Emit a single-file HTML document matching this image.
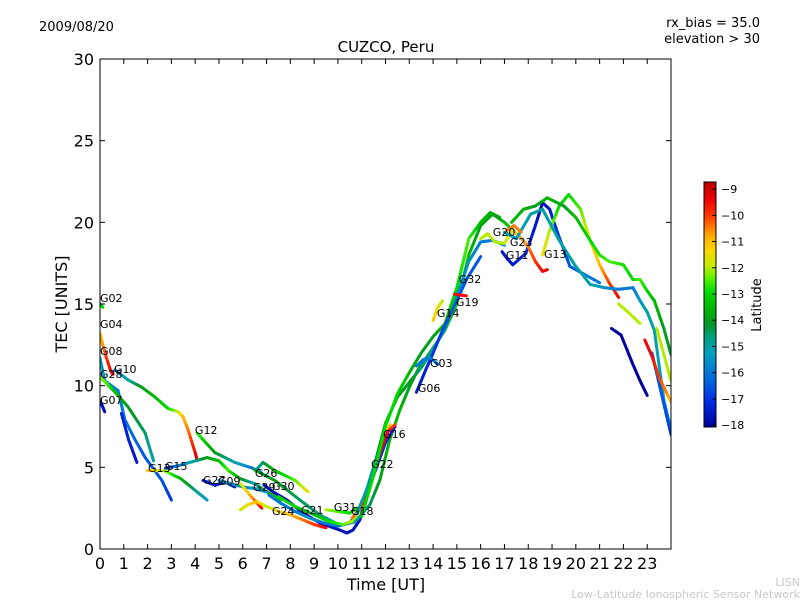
<!DOCTYPE html>
<html><head><meta charset="utf-8"><style>
body{margin:0;background:#fff;}
svg{display:block;font-family:"DejaVu Sans","Liberation Sans",sans-serif;}
</style></head><body>
<svg id="chart" width="800" height="600" xmlns="http://www.w3.org/2000/svg">
<defs>
<clipPath id="plotclip"><rect x="100" y="59" width="571" height="490"/></clipPath>
<linearGradient id="cmapgrad" x1="0" y1="1" x2="0" y2="0"></linearGradient>
</defs>
<text x="39" y="31" font-size="13">2009/08/20</text>
<text x="760" y="27" font-size="13" text-anchor="end">rx_bias = 35.0</text>
<text x="760" y="43" font-size="13" text-anchor="end">elevation &gt; 30</text>
<text x="386" y="52" font-size="15" text-anchor="middle">CUZCO, Peru</text>
<text x="386" y="590" font-size="16" text-anchor="middle">Time [UT]</text>
<text x="0" y="0" font-size="16" text-anchor="middle" transform="translate(67,304) rotate(-90)">TEC [UNITS]</text>
<text x="800" y="586" font-size="11" fill="#c8c8c8" text-anchor="end">LISN</text>
<text x="800" y="598" font-size="11" fill="#c8c8c8" text-anchor="end">Low-Latitude Ionospheric Sensor Network</text>
<g id="tracks" clip-path="url(#plotclip)"></g>
<g id="labels"></g>
<rect x="100" y="59" width="571" height="490" fill="none" stroke="#000" stroke-width="1"/>
<g id="axes"></g>
<rect x="704" y="182" width="12" height="245" fill="url(#cmapgrad)" stroke="#000" stroke-width="1"/>
<g id="cbticks"></g>
<text x="0" y="0" font-size="13" text-anchor="middle" transform="translate(761,305) rotate(-90)">Latitude</text>
</svg>
<script>
const xTicks = [0,1,2,3,4,5,6,7,8,9,10,11,12,13,14,15,16,17,18,19,20,21,22,23];
const yTicks = [0,5,10,15,20,25,30];
const cbTicks = [-9,-10,-11,-12,-13,-14,-15,-16,-17,-18];
const latMin = -18.07, latMax = -8.73;

const trackNames = ['g02','g04','g08','g07','g28','g10b','g10','g13a','g15','g27','g09','g12','g26','g29','v1','gy1','g24','g30','g21','g31','g22','r1','r2','g06','g03','g11','g20','g13b','rg','rt','rb','rlb','rr','ry1','ry2','g19','g14','g23'];
const g02_t=[0,0.12], g02_tec=[15.0,14.8], g02_lat=[-13,-13];
const g04_t=[0,0.1,0.25,0.45,0.55], g04_tec=[13.2,12.6,11.8,10.9,10.7], g04_lat=[-11,-10.8,-10,-9.5,-9.3];
const g08_t=[0,0.2,0.76,1.05,1.47,1.9,2.6,3.0], g08_tec=[11.7,10.3,9.7,7.9,6.7,5.6,4.2,3.0], g08_lat=[-15,-15.5,-16,-16,-16.3,-16.5,-16.5,-17];
const g07_t=[0,0.2], g07_tec=[9.1,8.4], g07_lat=[-17.5,-17.7];
const g28_t=[0,0.3,0.7,1.18,1.9,2.25], g28_tec=[10.5,10.1,9.5,8.7,7.1,5.4], g28_lat=[-12,-12.5,-13.5,-14,-14.5,-15];
const g10b_t=[0.9,1.2,1.55], g10b_tec=[8.3,6.7,5.3], g10b_lat=[-17.3,-17.3,-17.5];
const g10_t=[0.63,1.18,1.76,2.31,2.86,3.28,3.49,3.7,4.0,4.08], g10_tec=[10.96,10.35,9.9,9.3,8.6,8.4,8.1,7.3,5.9,5.45], g10_lat=[-16,-15,-14,-13.5,-13,-12,-11,-10.5,-9.5,-9];
const g13a_t=[2.0,2.7,3.4,4.5], g13a_tec=[4.8,4.8,4.3,3.0], g13a_lat=[-11,-12,-13.5,-15.5];
const g15_t=[2.75,3.3,4.5,5.0,5.4,5.9,6.5,7.0,7.6], g15_tec=[4.95,5.1,5.6,5.4,4.8,4.3,4.0,3.5,3.0], g15_lat=[-17,-16,-14,-13.5,-12.5,-14,-15,-14,-13];
const g27_t=[4.33,4.83,5.25,5.67], g27_tec=[4.2,3.9,4.1,3.8], g27_lat=[-17.5,-17.5,-17.5,-17.5];
const g09_t=[5.0,5.5,6.0,6.5,7.0], g09_tec=[4.2,4.0,3.8,3.7,3.5], g09_lat=[-15.5,-15.5,-15.5,-15.5,-15.5];
const g12_t=[4.08,4.83,5.67,6.39,6.8], g12_tec=[7.1,5.9,5.3,4.96,4.65], g12_lat=[-12.5,-14,-15,-16,-16.5];
const g26_t=[6.6,6.85,7.35,8.2,8.74], g26_tec=[4.9,5.3,4.8,4.2,3.5], g26_lat=[-15,-14.5,-13.5,-12.5,-11.5];
const g29_t=[6.9,7.27,7.86,8.53,9.24,10.08,10.38,10.63,10.92,11.13], g29_tec=[3.9,3.5,3.0,2.2,1.6,1.16,0.98,1.16,1.78,2.9], g29_lat=[-17.6,-17.6,-17.6,-17.6,-17.6,-17.6,-17.6,-17.6,-17.6,-17.6];
const v1_t=[6.5,7.35,8.4,9.24,10.08,10.71,11.34,11.76,12.18,12.6,13.03,13.36,14.0,14.5,15.0,15.5,16.0,16.5,17.0,17.5], v1_tec=[4.84,4.2,3.0,2.08,1.47,1.65,2.7,4.2,6.7,8.5,10.0,10.96,12.3,13.4,15.0,18.0,19.8,20.5,20.0,19.3], v1_lat=[-14,-14,-14.5,-14.5,-15,-15,-14.5,-14,-13.5,-13.5,-14,-14,-14,-13.5,-13,-13.5,-14,-14,-13.5,-13];
const gy1_t=[5.9,6.3,6.8], gy1_tec=[4.0,3.3,2.5], gy1_lat=[-12,-11,-9.5];
const g24_t=[5.9,6.2,6.6,7.0,7.5,8.0,8.5,9.0,9.5], g24_tec=[2.4,2.7,2.9,2.6,2.3,2.1,1.8,1.5,1.3], g24_lat=[-12,-11.5,-11,-12,-11.5,-11,-10.5,-10,-9.5];
const g30_t=[7.1,7.6,8.2,8.8,9.4,10.0,10.5,11.0,11.5,12.0,12.4], g30_tec=[3.3,2.8,2.3,1.9,1.6,1.4,1.6,2.6,4.5,6.5,7.5], g30_lat=[-16,-16,-16,-15.5,-16,-16,-16.5,-17,-17,-17,-17.5];
const g21_t=[7.5,8.2,9.0,9.6,10.2,10.6,11.0,11.4,11.8,12.2], g21_tec=[3.2,2.6,2.1,1.7,1.5,1.7,2.6,4.5,6.5,7.6], g21_lat=[-13,-13,-13.5,-13,-12.5,-12,-12.5,-12,-11.5,-11];
const g31_t=[9.5,10.0,10.5,10.8], g31_tec=[2.4,2.3,2.2,2.5], g31_lat=[-12,-12.5,-13,-13];
const g22_t=[10.6,11.0,11.4,11.8,12.1,12.4], g22_tec=[1.9,2.6,4.2,6.0,7.2,7.6], g22_lat=[-10.5,-10,-9.5,-9.3,-9.5,-10];
const r1_t=[10.8,11.2,11.6,12.0,12.5,13.0,13.5,14.0,14.5,15.0,15.5,16.0,16.5,17.0], r1_tec=[2.2,3.6,5.5,7.7,9.3,10.2,11.1,12.2,13.5,15.5,17.6,18.8,18.9,18.6], r1_lat=[-15,-15,-14.5,-13.5,-14,-14,-14.5,-15,-15.5,-15.5,-15.5,-16,-16,-15.5];
const r2_t=[11.0,11.5,12.0,12.5,13.0,13.5,14.0,14.5,15.0,15.5,16.0,16.4,16.8], r2_tec=[2.0,4.5,7.5,9.5,10.8,12.0,13.0,13.8,16.0,19.0,20.0,20.6,20.3], r2_lat=[-13,-13,-13,-13,-13.5,-14,-14,-13.5,-13,-12.5,-13.5,-13.5,-14];
const g06_t=[13.3,13.7,14.0,14.4,15.0,15.4,16.0], g06_tec=[9.6,11.0,12.0,13.4,15.2,16.5,17.9], g06_lat=[-17.5,-17.3,-17,-16.8,-16.5,-16.5,-16.5];
const g03_t=[13.3,13.6,13.9,14.2], g03_tec=[11.2,11.6,11.7,11.3], g03_lat=[-16,-16,-16,-16];
const g11_t=[16.9,17.1,17.35,17.9,18.3,18.6,18.9,19.2,19.75,20.5,21.0], g11_tec=[18.2,17.8,17.4,18.1,19.8,21.2,20.8,19.5,17.3,16.7,16.3], g11_lat=[-17.5,-17.5,-17.5,-17,-17.5,-17.8,-17.5,-17,-16.5,-16,-16];
const g20_t=[16.0,16.3,16.6,17.0,17.3,17.6,18.0,18.3,18.6,18.8], g20_tec=[19.0,19.3,18.8,18.7,19.5,19.2,18.5,17.6,17.0,17.1], g20_lat=[-12,-12,-12,-12,-11.5,-11,-10.5,-10,-9.5,-9.3];
const g13b_t=[18.6,18.9,19.3,19.7,20.2,20.6,21.0,21.4,21.8], g13b_tec=[18.0,19.5,21.0,21.7,20.8,18.9,17.4,16.3,15.4], g13b_lat=[-11.5,-12,-13,-13,-12.5,-11.5,-11,-10,-9.5];
const rg_t=[17.3,17.8,18.3,18.8,19.5,20.0,20.6,21.0,21.4,22.0,22.4,22.7,23.0,23.3,23.7,24.0], rg_tec=[20.0,20.8,21.0,21.5,21.0,20.3,18.9,18.0,17.6,17.4,16.5,16.5,15.8,15.2,13.5,11.9], rg_lat=[-13.5,-13.5,-14,-13.5,-14,-13.5,-13,-12.8,-12.5,-12.8,-13,-12.5,-13,-13.5,-14,-14];
const rt_t=[17.0,17.5,18.1,18.6,19.3,19.95,20.6,21.2,21.8,22.4,22.7,23.0,23.3,23.7,24.0], rt_tec=[19.4,19.0,20.5,20.8,18.9,17.4,16.2,16.0,15.9,16.0,15.2,14.5,13.4,9.1,7.3], rt_lat=[-15,-15.5,-15,-15,-15,-15,-15,-15.5,-16,-16,-15.5,-15,-15,-15.5,-16];
const rb_t=[21.5,21.9,22.4,22.7,23.0], rb_tec=[13.5,13.1,11.3,10.3,9.4], rb_lat=[-18,-18,-18,-18,-18];
const rlb_t=[23.2,23.6,24.0], rlb_tec=[12.0,9.5,7.0], rlb_lat=[-16.5,-16.5,-16.8];
const rr_t=[22.9,23.2,23.5,23.8,24.0], rr_tec=[12.8,11.8,10.5,9.6,9.0], rr_lat=[-9.5,-9.5,-10,-10.5,-11];
const ry1_t=[21.8,22.2,22.7], ry1_tec=[15.0,14.5,13.8], ry1_lat=[-12,-12,-12];
const ry2_t=[23.4,24.0], ry2_tec=[13.5,10.3], ry2_lat=[-12,-12];
const g19_t=[14.9,15.4], g19_tec=[15.6,15.5], g19_lat=[-9.5,-9.5];
const g14_t=[14.0,14.2,14.4], g14_tec=[14.0,14.8,15.2], g14_lat=[-11,-11.5,-12];
const g23_t=[17.1,17.4,17.7], g23_tec=[19.5,19.8,19.4], g23_lat=[-10.5,-10.5,-10.5];

const labelNames=['G02','G04','G08','G10','G28','G07','G12','G13','G15','G27','G09','G26','G29','G30','G24','G21','G31','G18','G22','G16','G06','G03','G14','G19','G32','G20','G23','G11','G13'];
const labelT=[0,0,0,0.59,0,0,3.99,2.02,2.73,4.33,4.96,6.51,6.43,7.23,7.23,8.45,9.83,10.55,11.39,11.9,13.36,13.87,14.16,14.96,15.08,16.51,17.23,17.06,18.66];
const labelTec=[15.13,13.53,11.88,10.78,10.47,8.88,7.04,4.71,4.84,3.98,3.92,4.41,3.55,3.61,2.08,2.14,2.33,2.08,4.96,6.8,9.62,11.15,14.2,14.88,16.29,19.17,18.55,17.76,17.82];

// colormap stops (fraction, r,g,b) approximating the reference colorbar
const CMAP=[[0,0,0,150],[0.1,0,40,230],[0.2,0,110,220],[0.3,0,160,190],[0.36,0,160,140],[0.42,0,150,40],[0.48,0,180,0],[0.55,0,220,0],[0.6,80,240,0],[0.66,200,235,0],[0.72,250,215,0],[0.78,255,170,0],[0.86,255,60,0],[0.93,235,0,0],[1,190,0,0]];
const NS='http://www.w3.org/2000/svg';
function xs(t){return 100+t*(571/24);}
function ys(v){return 549-v*(490/30);}
function cbY(l){return 427-(l-latMin)/(latMax-latMin)*245;}
function cmap(l){
  let x=(l-latMin)/(latMax-latMin); x=Math.max(0,Math.min(1,x));
  for(let i=0;i<CMAP.length-1;i++){
    const a=CMAP[i],b=CMAP[i+1];
    if(x<=b[0]){const f=(x-a[0])/(b[0]-a[0]);
      return 'rgb('+Math.round(a[1]+(b[1]-a[1])*f)+','+Math.round(a[2]+(b[2]-a[2])*f)+','+Math.round(a[3]+(b[3]-a[3])*f)+')';}
  }
  return 'rgb(190,0,0)';
}
const grad=document.getElementById('cmapgrad');
CMAP.forEach(s=>{const st=document.createElementNS(NS,'stop');st.setAttribute('offset',s[0]);st.setAttribute('stop-color','rgb('+s[1]+','+s[2]+','+s[3]+')');grad.appendChild(st);});
const tg=document.getElementById('tracks');
const trackData={g02:[g02_t,g02_tec,g02_lat],g04:[g04_t,g04_tec,g04_lat],g08:[g08_t,g08_tec,g08_lat],g07:[g07_t,g07_tec,g07_lat],g28:[g28_t,g28_tec,g28_lat],g10b:[g10b_t,g10b_tec,g10b_lat],g10:[g10_t,g10_tec,g10_lat],g13a:[g13a_t,g13a_tec,g13a_lat],g15:[g15_t,g15_tec,g15_lat],g27:[g27_t,g27_tec,g27_lat],g09:[g09_t,g09_tec,g09_lat],g12:[g12_t,g12_tec,g12_lat],g26:[g26_t,g26_tec,g26_lat],g29:[g29_t,g29_tec,g29_lat],v1:[v1_t,v1_tec,v1_lat],gy1:[gy1_t,gy1_tec,gy1_lat],g24:[g24_t,g24_tec,g24_lat],g30:[g30_t,g30_tec,g30_lat],g21:[g21_t,g21_tec,g21_lat],g31:[g31_t,g31_tec,g31_lat],g22:[g22_t,g22_tec,g22_lat],r1:[r1_t,r1_tec,r1_lat],r2:[r2_t,r2_tec,r2_lat],g06:[g06_t,g06_tec,g06_lat],g03:[g03_t,g03_tec,g03_lat],g11:[g11_t,g11_tec,g11_lat],g20:[g20_t,g20_tec,g20_lat],g13b:[g13b_t,g13b_tec,g13b_lat],rg:[rg_t,rg_tec,rg_lat],rt:[rt_t,rt_tec,rt_lat],rb:[rb_t,rb_tec,rb_lat],rlb:[rlb_t,rlb_tec,rlb_lat],rr:[rr_t,rr_tec,rr_lat],ry1:[ry1_t,ry1_tec,ry1_lat],ry2:[ry2_t,ry2_tec,ry2_lat],g19:[g19_t,g19_tec,g19_lat],g14:[g14_t,g14_tec,g14_lat],g23:[g23_t,g23_tec,g23_lat]};
trackNames.forEach(n=>{
  const [T,V,L]=trackData[n];
  const g=document.createElementNS(NS,'g');
  
  
  for(let i=0;i<T.length-1;i++){
    const K=6;
    for(let k=0;k<K;k++){
      const a=k/K,b=(k+1)/K;
      const ln=document.createElementNS(NS,'line');
      ln.setAttribute('x1',xs(T[i]+(T[i+1]-T[i])*a));
      ln.setAttribute('y1',ys(V[i]+(V[i+1]-V[i])*a));
      ln.setAttribute('x2',xs(T[i]+(T[i+1]-T[i])*b));
      ln.setAttribute('y2',ys(V[i]+(V[i+1]-V[i])*b));
      ln.setAttribute('stroke',cmap(L[i]+(L[i+1]-L[i])*(a+b)/2));
      ln.setAttribute('stroke-width','3');
      ln.setAttribute('stroke-linecap','round');
      
      
      g.appendChild(ln);
    }
  }
  tg.appendChild(g);
});
const lg=document.getElementById('labels');
labelNames.forEach((s,i)=>{
  const t=document.createElementNS(NS,'text');
  t.setAttribute('x',xs(labelT[i]));
  t.setAttribute('y',ys(labelTec[i]));
  t.setAttribute('font-size','11');
  t.textContent=s;
  
  
  lg.appendChild(t);
});
const ax=document.getElementById('axes');
function add(tag,attrs,txt){const e=document.createElementNS(NS,tag);for(const k in attrs)e.setAttribute(k,attrs[k]);if(txt!==undefined)e.textContent=txt;ax.appendChild(e);return e;}
xTicks.forEach(v=>{
  const x=xs(v);
  const a=add('line',{x1:x,y1:549,x2:x,y2:544,stroke:'#000'});
  
  
  const b=add('line',{x1:x,y1:59,x2:x,y2:64,stroke:'#000'});
  
  
  const t=add('text',{x:x,y:569,'font-size':16,'text-anchor':'middle'},String(v));
  
  
});
yTicks.forEach(v=>{
  const y=ys(v);
  const a=add('line',{x1:100,y1:y,x2:105,y2:y,stroke:'#000'});
  
  
  const b=add('line',{x1:671,y1:y,x2:666,y2:y,stroke:'#000'});
  
  
  const t=add('text',{x:94,y:y+6,'font-size':16,'text-anchor':'end'},String(v));
  
  
});
const cb=document.getElementById('cbticks');
cbTicks.forEach(v=>{
  const y=cbY(v);
  const l=document.createElementNS(NS,'line');
  l.setAttribute('x1',712);l.setAttribute('x2',716);l.setAttribute('y1',y);l.setAttribute('y2',y);l.setAttribute('stroke','#000');
  
  
  cb.appendChild(l);
  const t=document.createElementNS(NS,'text');
  t.setAttribute('x',721);t.setAttribute('y',y+4);t.setAttribute('font-size','11');
  t.textContent='\u2212'+Math.abs(v);
  
  
  cb.appendChild(t);
});
</script>
</body></html>
